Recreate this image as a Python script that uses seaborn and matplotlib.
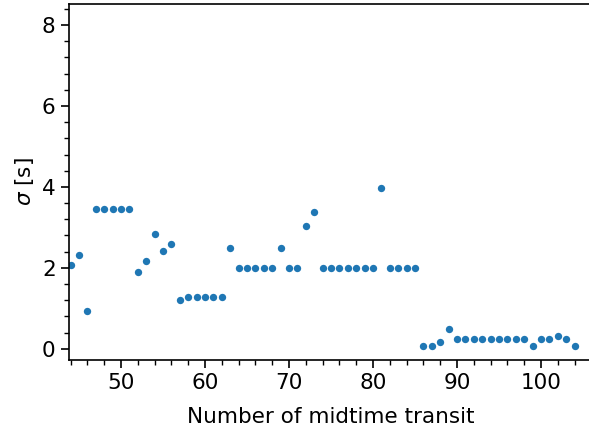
import matplotlib
matplotlib.use('Agg')
import matplotlib.pyplot as plt
from matplotlib.ticker import MultipleLocator
import seaborn as sns
import pandas as pd

# transit numbers and timing uncertainty
transit = list(range(44, 105))
sigma = [
    2.07, 2.32, 0.94, 3.46, 3.46, 3.46, 3.46, 3.46,   # 44-51
    1.90, 2.17, 2.84, 2.42, 2.59, 1.21,               # 52-57
    1.28, 1.28, 1.28, 1.28, 1.28, 2.49,               # 58-63
    2.00, 2.00, 2.00, 2.00, 2.00, 2.49, 2.00, 2.00,   # 64-71
    3.03, 3.38,                                       # 72-73
    2.00, 2.00, 2.00, 2.00, 2.00, 2.00, 2.00, 3.97,   # 74-81
    2.00, 2.00, 2.00, 2.00,                           # 82-85
    0.08, 0.08, 0.17, 0.50,                           # 86-89
    0.25, 0.25, 0.25, 0.25, 0.25, 0.25, 0.25, 0.25, 0.25,  # 90-98
    0.08, 0.25, 0.25, 0.32, 0.25, 0.08,               # 99-104
]

df = pd.DataFrame({'transit': transit, 'sigma': sigma})

sns.set_style("ticks")
plt.rcParams.update({'text.color': 'black', 'axes.labelcolor': 'black',
                     'xtick.color': 'black', 'ytick.color': 'black'})
fig = plt.figure(figsize=(5.89, 4.34), dpi=100)
ax = fig.add_axes([0.117, 0.171, 0.89, 0.82])

sns.scatterplot(data=df, x='transit', y='sigma', ax=ax, color='#1f77b4',
                s=28, linewidth=0)

ax.set_xlim(43.8, 106.2)
ax.set_ylim(-0.27, 8.52)
ax.xaxis.set_major_locator(MultipleLocator(10))
ax.xaxis.set_minor_locator(MultipleLocator(2))
ax.yaxis.set_major_locator(MultipleLocator(2))
ax.yaxis.set_minor_locator(MultipleLocator(0.4))
ax.tick_params(axis='both', which='major', labelsize=15.5, length=6, width=1.2)
ax.tick_params(axis='both', which='minor', length=3.5, width=1.0)
ax.set_xlabel('Number of midtime transit', fontsize=15.5, labelpad=10)
ax.set_ylabel(r'$\sigma$ [s]', fontsize=15.5)
for sp in ax.spines.values():
    sp.set_color('black')
    sp.set_linewidth(1.2)
ax.spines['right'].set_visible(False)

fig.savefig('out.png', dpi=100)
